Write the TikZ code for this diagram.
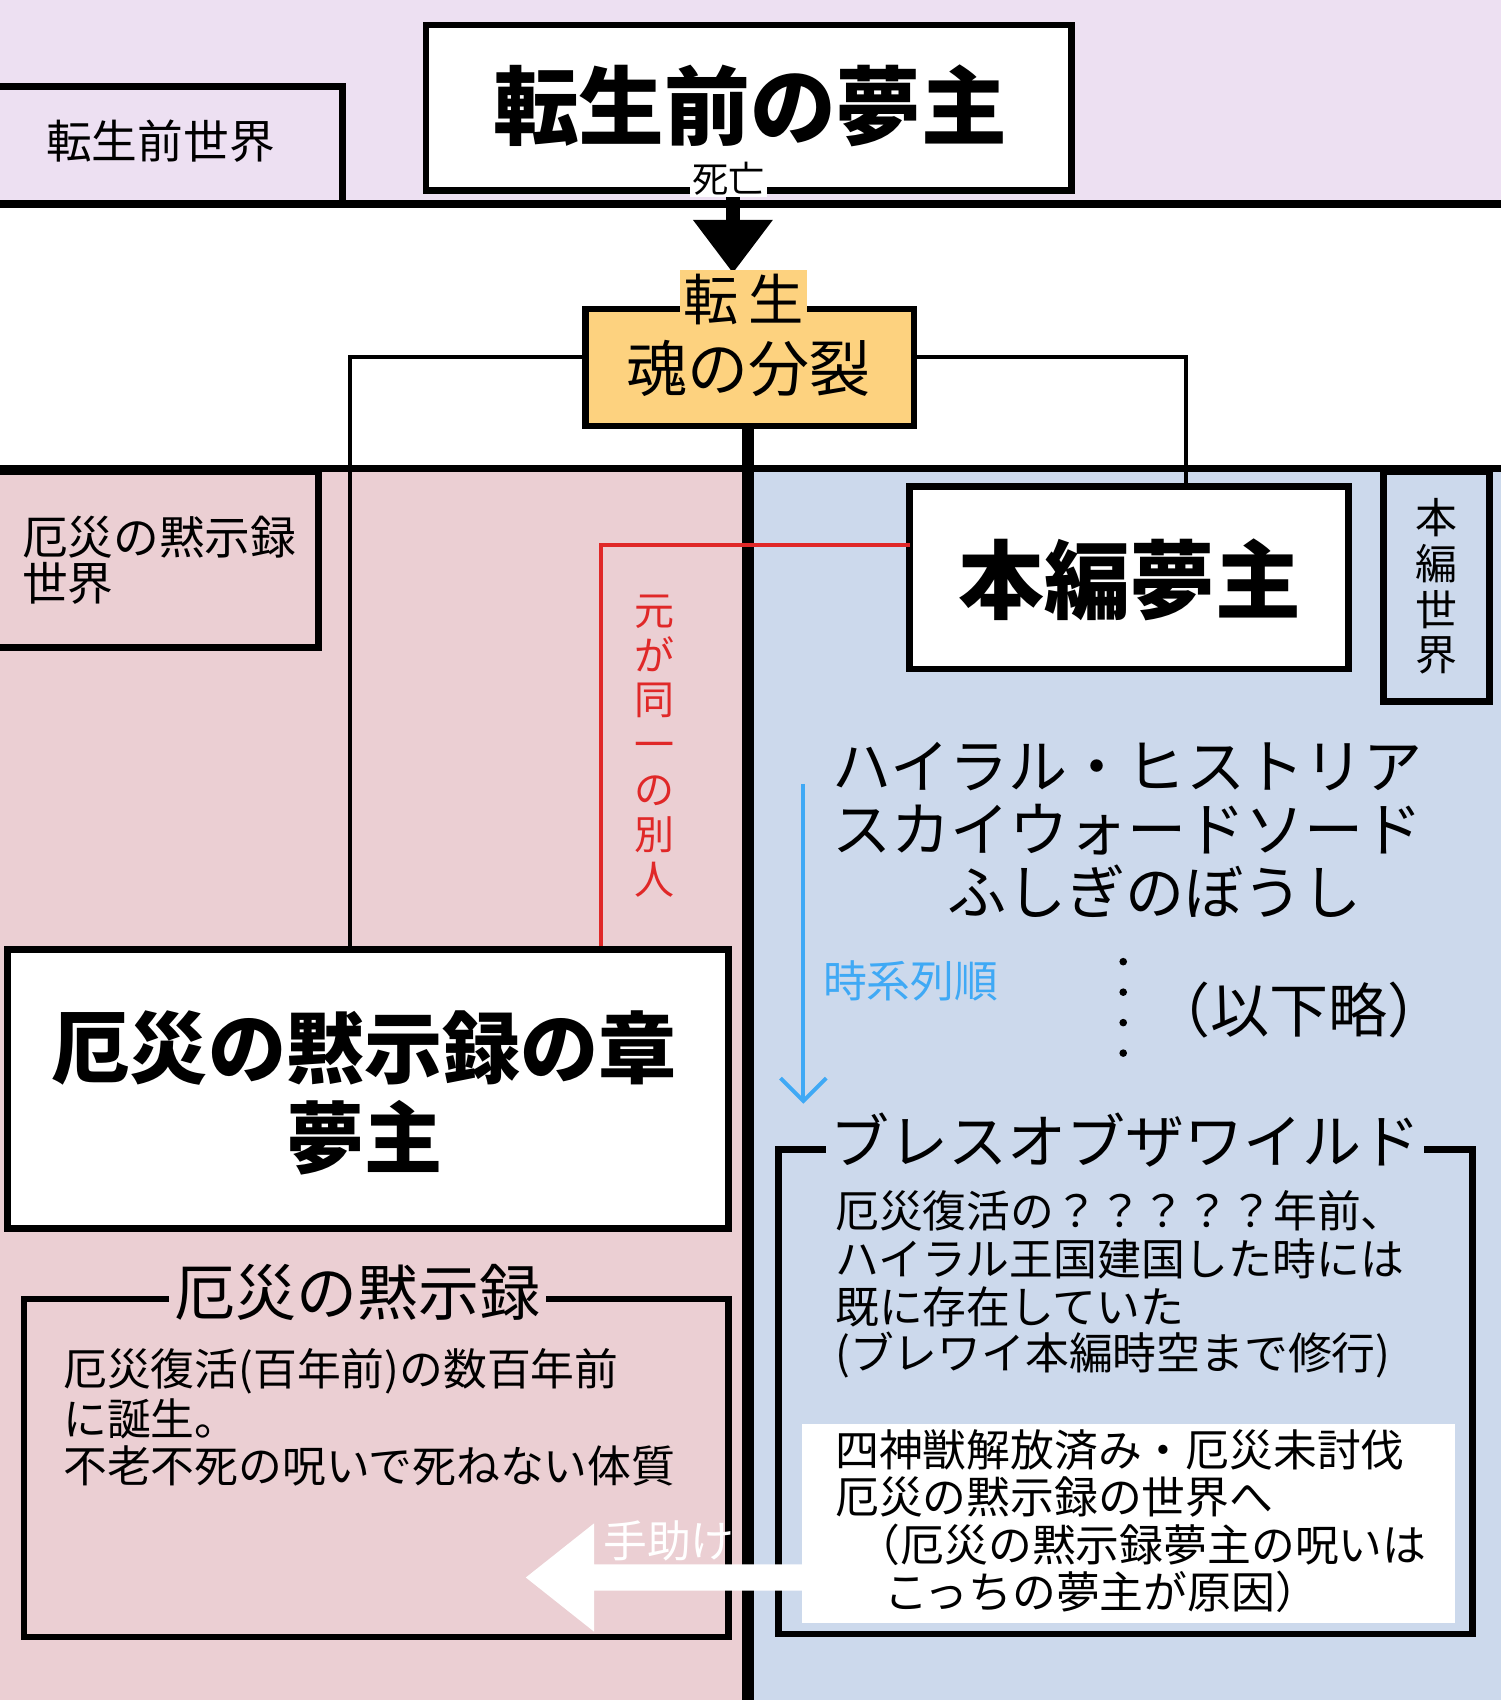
\documentclass[tikz,border=0pt]{standalone}
\usepackage{fontspec}
\setmainfont{Noto Sans CJK JP}
\usetikzlibrary{arrows.meta}
\definecolor{lav}{HTML}{EDE0F2}
\definecolor{pk}{HTML}{EBCFD3}
\definecolor{bl}{HTML}{CCD9EC}
\definecolor{org}{HTML}{FDD27F}
\definecolor{rd}{HTML}{E02828}
\definecolor{sky}{HTML}{3FA9F5}
\newcommand{\fs}[1]{\fontsize{#1}{#1*1.15}\selectfont}
\begin{document}
\begin{tikzpicture}[x=0.02cm,y=-0.02cm,
 bx/.style={draw=black,line width=3.5pt},
 big/.style={font=\fs{45pt}\bfseries,align=center},
 mid/.style={font=\fs{32pt},align=center},
 sm/.style={font=\fs{23pt},align=left,inner sep=0pt,anchor=west}]
\useasboundingbox (0,0) rectangle (1384,1568);
\fill[lav] (0,0) rectangle (1384,188);
\fill[white] (0,188) rectangle (1384,432);
\fill[pk] (0,432) rectangle (690,1568);
\fill[bl] (690,432) rectangle (1384,1568);
\draw[line width=4pt] (0,188) -- (1384,188);
\draw[line width=4pt] (0,432) -- (1384,432);
% top boxes
\draw[bx,fill=lav] (-5,80) rectangle (316,188);
\node[font=\fs{24pt}] (w0) at (148,130) {転生前世界};
\draw[bx,fill=white] (393,23) rectangle (988,176);
\node[big] (pre) at (692,98) {転生前の夢主};
\coordinate (d0) at (676,176);
\coordinate (d1) at (676,252);
\draw[line width=7pt,-{Triangle[length=28pt,width=40pt]}] (d0) -- (d1);
\node[fill=white,inner sep=1pt,font=\fs{19pt}] (die) at (672,165) {死亡};
% split box
\draw[line width=2pt] (540,329) -| (323,875);
\draw[line width=2pt] (843,329) -| (1094,449);
\draw[line width=6pt] (690,393) -- (690,1568);
\draw[bx,fill=org] (540,285) rectangle (843,393);
\node[fill=org,font=\fs{29pt},inner sep=2pt] (ts) at (686,276) {転\,生};
\node[mid] (split) at (690,340) {魂の分裂};
% left world box
\draw[bx,fill=pk] (-5,435) rectangle (294,597);
\node[sm,font=\fs{24pt}] (w1) at (20,517) {厄災の黙示録\\世界};
% main box
\draw[bx,fill=white] (839,449) rectangle (1244,617);
\node[big] (main) at (1042,535) {本編夢主};
\draw[bx,fill=bl] (1276,435) rectangle (1374,647);
\node[font=\fontsize{22pt}{24pt}\selectfont,align=center] (w2) at (1325,541) {本\\編\\世\\界};
% red
\draw[rd,line width=2pt] (839,503) -| (554,875);
\node[rd,font=\fontsize{21pt}{23.5pt}\selectfont,align=center] (same) at (604,688) {元\\が\\同\\一\\の\\別\\人};
% blue arrow
\coordinate (t0) at (741,723);
\coordinate (t1) at (741,1018);
\draw[sky,line width=2pt,-{Straight Barb[length=12pt,width=24pt]}] (t0) -- (t1);
\node[sky,font=\fs{23pt}] (ts2) at (840,905) {時系列順};
\node[font=\fs{31pt}] (g1) at (1040,707) {ハイラル・ヒストリア};
\node[font=\fs{31pt}] (g2) at (1040,765) {スカイウォードソード};
\node[font=\fs{31pt}] (g3) at (1065,822) {ふしぎのぼうし};
\draw[line width=4pt,dash pattern=on 0pt off 16pt,line cap=round] (1036,887) -- (1036,980);
\node[font=\fs{31pt}] (etc) at (1198,932) {（以下略）};
% botw box
\draw[bx] (718,1060) rectangle (1358,1507);
\node[fill=bl,font=\fs{31pt},inner sep=2pt] (botw) at (1038,1052) {ブレスオブザワイルド};
\node[sm] (b1) at (770,1117) {厄災復活の？？？？？年前、};
\node[sm] (b2) at (770,1161) {ハイラル王国建国した時には};
\node[sm] (b3) at (770,1205) {既に存在していた};
\node[sm] (b4) at (770,1250) {(ブレワイ本編時空まで修行)};
\fill[white] (740,1313) rectangle (1342,1497);
\node[sm] (c1) at (770,1337) {四神獣解放済み・厄災未討伐};
\node[sm] (c2) at (770,1381) {厄災の黙示録の世界へ};
\node[sm] (c3) at (790,1425) {（厄災の黙示録夢主の呪いは};
\node[sm] (c4) at (815,1468) {こっちの夢主が原因）};
% left big box
\draw[bx,fill=white] (7,876) rectangle (672,1133);
\node[font=\fontsize{41pt}{47pt}\selectfont\bfseries,align=center] (aw) at (336,1008) {厄災の黙示録の章\\夢主};
\draw[bx] (22,1198) rectangle (672,1510);
\node[fill=pk,font=\fs{32pt},inner sep=3pt] (aa) at (330,1192) {厄災の黙示録};
\node[sm] (a1) at (58,1265) {厄災復活(百年前)の数百年前};
\node[sm] (a2) at (58,1309) {に誕生。};
\node[sm] (a3) at (58,1352) {不老不死の呪いで死ねない体質};
% white arrow
\fill[white] (740,1443) -- (548,1443) -- (548,1405) -- (485,1455) -- (548,1505) -- (548,1467) -- (740,1467) -- cycle;
\node[white,font=\fs{23pt}] (help) at (617,1421) {手助け};
\end{tikzpicture}
\end{document}
